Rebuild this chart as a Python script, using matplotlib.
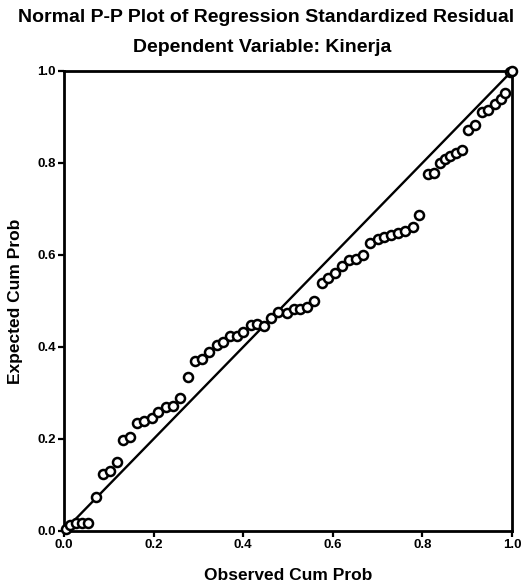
import numpy as np
import matplotlib
matplotlib.use("Agg")
import matplotlib.pyplot as plt

plt.rcParams['font.family'] = ['Liberation Sans', 'DejaVu Sans']

# observed vs expected cumulative probabilities of the standardized residuals
observed = [0.004, 0.013, 0.027, 0.040, 0.054, 0.071, 0.087, 0.103, 0.118, 0.132,
            0.147, 0.163, 0.179, 0.196, 0.210, 0.228, 0.243, 0.259, 0.277, 0.292,
            0.308, 0.324, 0.342, 0.355, 0.371, 0.386, 0.400, 0.417, 0.431, 0.447,
            0.462, 0.478, 0.498, 0.513, 0.527, 0.542, 0.558, 0.576, 0.590, 0.605,
            0.621, 0.636, 0.652, 0.668, 0.684, 0.700, 0.715, 0.731, 0.746, 0.762,
            0.779, 0.792, 0.812, 0.825, 0.839, 0.850, 0.862, 0.875, 0.889, 0.902,
            0.917, 0.933, 0.946, 0.962, 0.975, 0.984, 0.996, 1.000]
expected = [0.004, 0.013, 0.017, 0.017, 0.017, 0.074, 0.124, 0.130, 0.150, 0.198,
            0.204, 0.235, 0.239, 0.246, 0.259, 0.270, 0.272, 0.289, 0.335, 0.370,
            0.374, 0.389, 0.404, 0.411, 0.424, 0.424, 0.433, 0.448, 0.450, 0.446,
            0.463, 0.476, 0.474, 0.483, 0.483, 0.487, 0.500, 0.539, 0.550, 0.561,
            0.576, 0.589, 0.591, 0.600, 0.625, 0.634, 0.639, 0.643, 0.648, 0.652,
            0.660, 0.687, 0.776, 0.779, 0.801, 0.808, 0.815, 0.822, 0.828, 0.871,
            0.883, 0.910, 0.916, 0.928, 0.940, 0.952, 0.997, 1.000]

ticks = [0.0, 0.2, 0.4, 0.6, 0.8, 1.0]
tick_labels = ["0.0", "0.2", "0.4", "0.6", "0.8", "1.0"]

fig = plt.figure(figsize=(5.32, 5.86), dpi=100)
ax = fig.add_axes([0.1203, 0.0939, 0.8421, 0.7850])

ax.plot([0, 1], [0, 1], color="black", linewidth=1.7, zorder=2)
ax.plot(observed, expected, linestyle="none", marker="o", markersize=6.5,
        markerfacecolor="white", markeredgecolor="black", markeredgewidth=1.8,
        clip_on=False, zorder=3)

ax.set_xlim(0, 1)
ax.set_ylim(0, 1)
ax.set_xticks(ticks)
ax.set_xticklabels(tick_labels)
ax.set_yticks(ticks)
ax.set_yticklabels(tick_labels)
ax.tick_params(direction="out", length=4, width=1.6, labelsize=9.5, pad=2)
for lbl in ax.get_xticklabels() + ax.get_yticklabels():
    lbl.set_fontweight("bold")
for sp in ax.spines.values():
    sp.set_linewidth(2)

ax.set_xlabel("Observed Cum Prob", fontsize=12.5, fontweight="bold", labelpad=12)
ax.set_ylabel("Expected Cum Prob", fontsize=12.5, fontweight="bold", labelpad=10)

fig.text(0.5, 1 - 17 / 586, "Normal P-P Plot of Regression Standardized Residual",
         ha="center", va="center", fontsize=14, fontweight="bold")
fig.text(0.493, 1 - 48 / 586, "Dependent Variable: Kinerja",
         ha="center", va="center", fontsize=14, fontweight="bold")

fig.savefig("out.png", dpi=100)
